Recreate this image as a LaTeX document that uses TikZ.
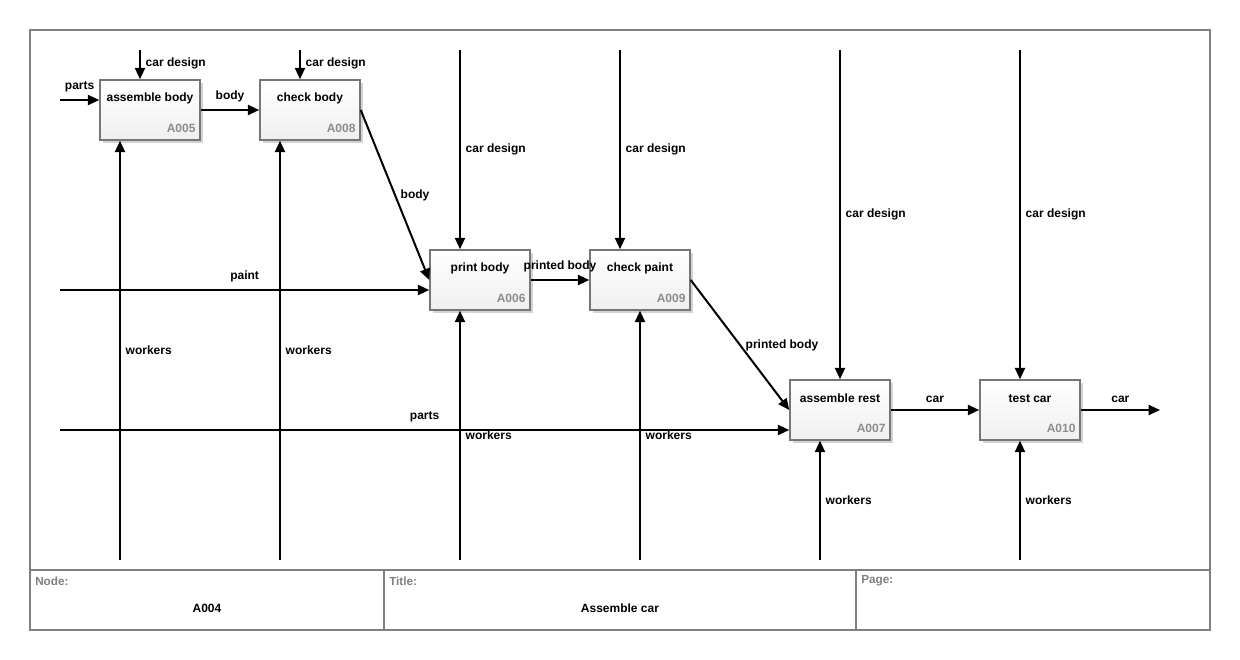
\documentclass[tikz,border=0pt]{standalone}
\usepackage{fontspec}
\setmainfont{Liberation Sans}
\usetikzlibrary{arrows.meta,calc,shadows}

\definecolor{framegray}{HTML}{808080}
\definecolor{boxgray}{HTML}{767676}
\definecolor{idgray}{HTML}{8C8C8C}

\begin{document}
\begin{tikzpicture}[x=0.75pt,y=-0.75pt,
    flow/.style={line width=1.5pt,-{Triangle[length=8.5pt,width=7.5pt]}},
    lbl/.style={font=\fontsize{9}{11}\selectfont\bfseries,inner sep=1.5pt},
    actbox/.style={draw=boxgray,line width=1.1pt,minimum width=75pt,minimum height=45pt,
        top color=white,bottom color=black!6,
        drop shadow={shadow xshift=2pt,shadow yshift=-2pt,opacity=0.35}},
    boxtitle/.style={lbl},
    boxid/.style={font=\fontsize{9}{11}\selectfont\bfseries,text=idgray,inner sep=0pt,anchor=east},
    foothead/.style={font=\fontsize{8.8}{10}\selectfont\bfseries,text=framegray,anchor=west,inner sep=0pt}]

    \useasboundingbox (0,0) rectangle (1240,660);

    % frame and footer
    \draw[framegray,line width=1.5pt](30,30) rectangle (1210,630);
    \draw[framegray,line width=1.5pt](30,570)--(1210,570);
    \draw[framegray,line width=1.5pt](384,570)--(384,630);
    \draw[framegray,line width=1.5pt](856,570)--(856,630);
    \node[foothead] (nodehead) at (35,581) {Node:};
    \node[foothead] (titlehead) at (389,581) {Title:};
    \node[foothead] (pagehead) at (861,581) {Page:};
    \node[lbl] (nodeval) at (207,608) {A004};
    \node[lbl] (titleval) at (620,608) {Assemble car};

    % activities
    \node[actbox] (a005) at (150,110) {};
    \node[boxtitle] (t005) at ($(a005.north)+(0,19)$) {assemble body};
    \node[boxid] (i005) at ($(a005.south east)+(-5,-12)$) {A005};

    \node[actbox] (a008) at (310,110) {};
    \node[boxtitle] (t008) at ($(a008.north)+(0,19)$) {check body};
    \node[boxid] (i008) at ($(a008.south east)+(-5,-12)$) {A008};

    \node[actbox] (a006) at (480,280) {};
    \node[boxtitle] (t006) at ($(a006.north)+(0,19)$) {print body};
    \node[boxid] (i006) at ($(a006.south east)+(-5,-12)$) {A006};

    \node[actbox] (a009) at (640,280) {};
    \node[boxtitle] (t009) at ($(a009.north)+(0,19)$) {check paint};
    \node[boxid] (i009) at ($(a009.south east)+(-5,-12)$) {A009};

    \node[actbox] (a007) at (840,410) {};
    \node[boxtitle] (t007) at ($(a007.north)+(0,19)$) {assemble rest};
    \node[boxid] (i007) at ($(a007.south east)+(-5,-12)$) {A007};

    \node[actbox] (a010) at (1030,410) {};
    \node[boxtitle] (t010) at ($(a010.north)+(0,19)$) {test car};
    \node[boxid] (i010) at ($(a010.south east)+(-5,-12)$) {A010};

    % free ends
    \coordinate (partsin) at (60,100);
    \coordinate (paintin) at (60,290);
    \coordinate (partsrest) at (60,430);
    \coordinate (carout) at (1160,410);
    \coordinate (cdA) at (140,50);
    \coordinate (cdB) at (300,50);
    \coordinate (cdC) at (460,50);
    \coordinate (cdD) at (620,50);
    \coordinate (cdE) at (840,50);
    \coordinate (cdF) at (1020,50);
    \coordinate (wA) at (120,560);
    \coordinate (wB) at (280,560);
    \coordinate (wC) at (460,560);
    \coordinate (wD) at (640,560);
    \coordinate (wE) at (820,560);
    \coordinate (wF) at (1020,560);

    % inputs and outputs
    \draw[flow](partsin)--node[lbl,above=3.5pt]{parts}(partsin-|a005.west);
    \draw[flow](a005.east)--node[lbl,above=3.5pt]{body}(a008.west);
    \draw[flow](a008.east)--node[lbl,right=2pt]{body}(a006.west);
    \draw[flow](paintin)--node[lbl,above=3.5pt]{paint}(paintin-|a006.west);
    \draw[flow](a006.east)--node[lbl,above=3.5pt]{printed body}(a009.west);
    \draw[flow](a009.east)--node[lbl,right=2pt]{printed body}(a007.west);
    \draw[flow](partsrest)--node[lbl,above=3.5pt]{parts}(partsrest-|a007.west);
    \draw[flow](a007.east)--node[lbl,above=3.5pt]{car}(a010.west);
    \draw[flow](a010.east)--node[lbl,above=3.5pt]{car}(carout);

    % controls
    \draw[flow](cdA)--node[lbl,right=2pt,pos=0.45]{car design}(cdA|-a005.north);
    \draw[flow](cdB)--node[lbl,right=2pt,pos=0.45]{car design}(cdB|-a008.north);
    \draw[flow](cdC)--node[lbl,right=2pt]{car design}(cdC|-a006.north);
    \draw[flow](cdD)--node[lbl,right=2pt]{car design}(cdD|-a009.north);
    \draw[flow](cdE)--node[lbl,right=2pt]{car design}(cdE|-a007.north);
    \draw[flow](cdF)--node[lbl,right=2pt]{car design}(cdF|-a010.north);

    % mechanisms
    \draw[flow](wA)--node[lbl,right=2pt]{workers}(wA|-a005.south);
    \draw[flow](wB)--node[lbl,right=2pt]{workers}(wB|-a008.south);
    \draw[flow](wC)--node[lbl,right=2pt]{workers}(wC|-a006.south);
    \draw[flow](wD)--node[lbl,right=2pt]{workers}(wD|-a009.south);
    \draw[flow](wE)--node[lbl,right=2pt]{workers}(wE|-a007.south);
    \draw[flow](wF)--node[lbl,right=2pt]{workers}(wF|-a010.south);
\end{tikzpicture}
\end{document}
